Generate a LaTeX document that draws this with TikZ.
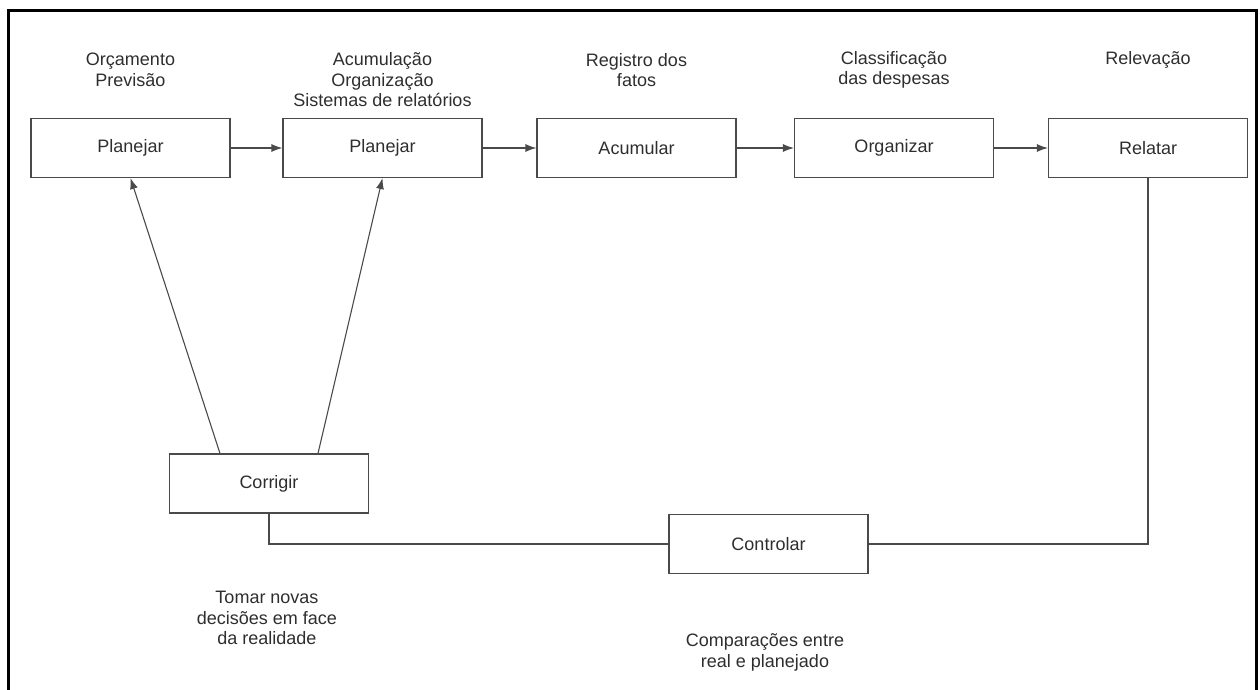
\documentclass[tikz,border=0pt]{standalone}
\usepackage{fontspec}
\setmainfont{Liberation Sans}
\usetikzlibrary{arrows.meta}
\definecolor{ink}{HTML}{4A4A4A}
\definecolor{txt}{HTML}{2E2E2E}
\begin{document}
\begin{tikzpicture}[x=1pt,y=-1pt,
  box/.style={draw=ink, line width=1.1pt, minimum width=199pt, minimum height=59pt,
              inner sep=0pt, font=\fontsize{18}{20.5}\selectfont, text=txt},
  lbl/.style={align=center, font=\fontsize{18}{20.5}\selectfont, text=txt, inner sep=0pt},
  flow/.style={draw=ink, line width=1.1pt, -{Latex[length=11pt,width=8pt]}},
  link/.style={draw=ink, line width=1.1pt},
]
\useasboundingbox (0,0) rectangle (1260,690);
% frame, open at the lower edge
\draw[line width=3pt] (8,695) -- (8,11) -- (1256,11) -- (1256,695);

% process chain
\node[box] (p1) at (130.5,148) {Planejar};
\node[box] (p2) at (382.5,148) {Planejar};
\node[box] (p3) at (636.5,148) {Acumular};
\node[box] (p4) at (894,148)   {Organizar};
\node[box] (p5) at (1148,148)  {Relatar};
\node[box] (cor) at (269,483.5) {Corrigir};
\node[box] (con) at (768.5,544) {Controlar};

% captions
\node[lbl] (l1) at (130.5,70) {Orçamento\\Previsão};
\node[lbl] (l2) at (382.5,80) {Acumulação\\Organização\\Sistemas de relatórios};
\node[lbl] (l3) at (636.5,70) {Registro dos\\fatos};
\node[lbl] (l4) at (894,70)   {Classificação\\das despesas};
\node[lbl] (l5) at (1148,60)  {Relevação};
\node[lbl] (l6) at (267,618)  {Tomar novas\\decisões em face\\da realidade};
\node[lbl] (l7) at (765,652.5) {Comparações entre\\real e planejado};

% connectors
\draw[flow] (p1) -- (p2);
\draw[flow] (p2) -- (p3);
\draw[flow] (p3) -- (p4);
\draw[flow] (p4) -- (p5);
\draw[flow] ([xshift=-49pt]cor.north) -- (p1.south);
\draw[flow] ([xshift=49pt]cor.north) -- (p2.south);
\draw[link] (cor.south) |- (con.west);
\draw[link] (con.east) -| (p5.south);
\end{tikzpicture}
\end{document}
